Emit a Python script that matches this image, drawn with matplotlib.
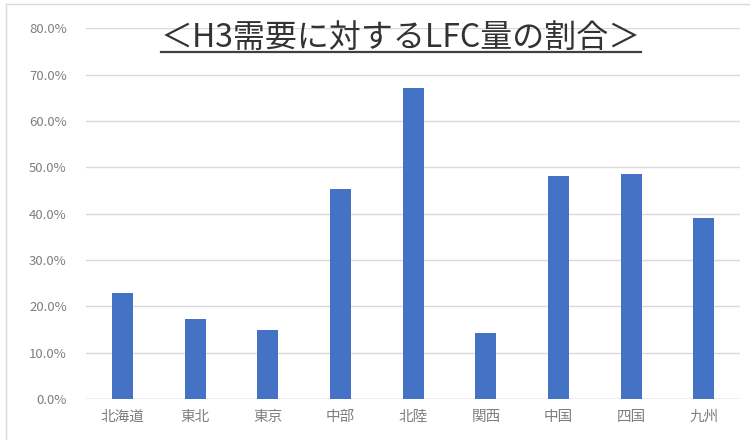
import matplotlib
matplotlib.use("Agg")
import matplotlib.pyplot as plt
from matplotlib.lines import Line2D
from matplotlib.ticker import FuncFormatter

plt.rcParams['font.family'] = ['Noto Sans CJK JP', 'DejaVu Sans']

regions = ["北海道", "東北", "東京", "中部", "北陸", "関西", "中国", "四国", "九州"]
ratios = [22.8, 17.2, 14.9, 45.4, 67.2, 14.3, 48.1, 48.5, 39.0]
title = "＜H3需要に対するLFC量の割合＞"

fig = plt.figure(figsize=(7.5, 4.4), dpi=100)
ax = fig.add_axes([0.115, 0.093, 0.872, 0.843])

ax.bar(range(len(regions)), ratios, width=0.29, color="#4472C4", zorder=3)

ax.set_xlim(-0.5, len(regions) - 0.5)
ax.set_ylim(0, 80)
ax.set_yticks(range(0, 81, 10))
ax.yaxis.set_major_formatter(FuncFormatter(lambda v, p: f"{v:.1f}%"))
ax.set_xticks(range(len(regions)))
ax.set_xticklabels(regions)
ax.tick_params(axis="both", length=0, colors="#7f7f7f", labelsize=9.5)
ax.tick_params(axis="x", labelsize=10.5, pad=8)
ax.tick_params(axis="y", pad=14)
ax.grid(axis="y", color="#d9d9d9", linewidth=1, zorder=0)
for s in ax.spines.values():
    s.set_visible(False)
ax.axhline(0, color="#d0d0d0", linewidth=1, zorder=2)

# title, underlined
t = fig.text(0.535, 0.893, title, ha="center", va="baseline", fontsize=23, color="#333333")
fig.canvas.draw()
bb = t.get_window_extent().transformed(fig.transFigure.inverted())
fig.add_artist(Line2D([bb.x0, bb.x1], [0.882, 0.882], color="#404040", linewidth=1.6,
                      transform=fig.transFigure))

# chart border (left / top)
fig.add_artist(Line2D([0.008, 0.008], [0, 0.992], color="#d9d9d9", linewidth=1, transform=fig.transFigure))
fig.add_artist(Line2D([0.008, 1], [0.992, 0.992], color="#d9d9d9", linewidth=1, transform=fig.transFigure))

fig.savefig("out.png", dpi=100)
